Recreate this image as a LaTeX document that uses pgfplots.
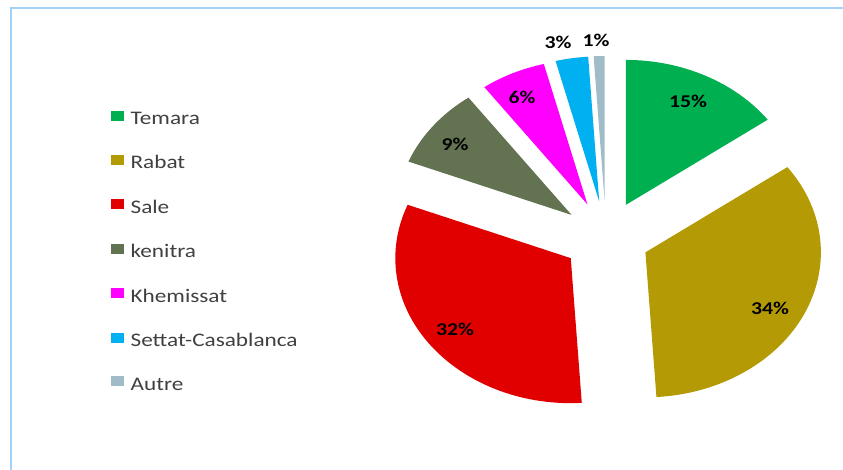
\documentclass[border=0pt]{standalone}
\usepackage{pgfplots}
\pgfplotsset{compat=1.18}
\usepackage{fontspec}
\setmainfont{Carlito}[FakeStretch=1.21]

\definecolor{temara}{RGB}{0,176,80}
\definecolor{rabat}{RGB}{180,155,6}
\definecolor{sale}{RGB}{225,0,0}
\definecolor{kenitra}{RGB}{99,114,80}
\definecolor{khemissat}{RGB}{255,0,255}
\definecolor{settat}{RGB}{0,176,240}
\definecolor{autre}{RGB}{160,188,200}
\definecolor{frame}{RGB}{160,210,245}

% slice: start (%), value (%), colour -- pie centre (606,233), exploded 36
\newcommand\slice[3]{%
  \pgfmathsetmacro\sa{90-3.6*#1}%
  \pgfmathsetmacro\sb{90-3.6*(#1+#2)}%
  \pgfmathsetmacro\sm{(\sa+\sb)/2}%
  \pgfmathsetmacro\tx{606+1.21*36*cos(\sm)}%
  \pgfmathsetmacro\ty{233+36*sin(\sm)}%
  \pgfmathsetmacro\px{\tx+1.21*145*cos(\sa)}%
  \pgfmathsetmacro\py{\ty+145*sin(\sa)}%
  \edef\temp{\noexpand\fill[#3] (axis cs:\tx,\ty) -- (axis cs:\px,\py)
    arc[start angle=\sa, end angle=\sb, x radius=175.45, y radius=145] -- cycle;}%
  \temp
}

\begin{document}
\begin{tikzpicture}
    \useasboundingbox (0,0) rectangle (843pt,470pt);
    \begin{axis}[
            at={(0,0)}, anchor=south west,
            x=1pt, y=1pt,
            xmin=0, xmax=843, ymin=0, ymax=470,
            hide axis, clip=false,
            legend image code/.code={\fill[#1] (0pt,-1pt) rectangle (12pt,8pt);},
            legend cell align=left,
            legend style={
                draw=none, fill=none,
                at={(axis cs:108,362)}, anchor=north west,
                font=\fontsize{19.2}{22}\selectfont, text=black!75,
                row sep=25.6pt,
                nodes={inner xsep=2pt},
                /tikz/every odd column/.append style={column sep=5pt},
            },
        ]
        \draw[frame, line width=2pt] (axis cs:11,0) -- (axis cs:11,462) -- (axis cs:843,462);

        \slice{0}{15}{temara}
        \slice{15}{34}{rabat}
        \slice{49}{32}{sale}
        \slice{81}{9}{kenitra}
        \slice{90}{6}{khemissat}
        \slice{96}{3}{settat}
        \slice{99}{1}{autre}

        \begin{scope}[font=\bfseries\fontsize{18}{20}\selectfont]
            \node at (axis cs:688,369) {15\%};
            \node at (axis cs:770,162) {34\%};
            \node at (axis cs:455,141) {32\%};
            \node at (axis cs:455,326) {9\%};
            \node at (axis cs:522,373) {6\%};
            \node at (axis cs:558,428) {3\%};
            \node at (axis cs:596,430) {1\%};
        \end{scope}

        \addlegendimage{temara}\addlegendentry{Temara}
        \addlegendimage{rabat}\addlegendentry{Rabat}
        \addlegendimage{sale}\addlegendentry{Sale}
        \addlegendimage{kenitra}\addlegendentry{kenitra}
        \addlegendimage{khemissat}\addlegendentry{Khemissat}
        \addlegendimage{settat}\addlegendentry{Settat-Casablanca}
        \addlegendimage{autre}\addlegendentry{Autre}
    \end{axis}
\end{tikzpicture}
\end{document}
